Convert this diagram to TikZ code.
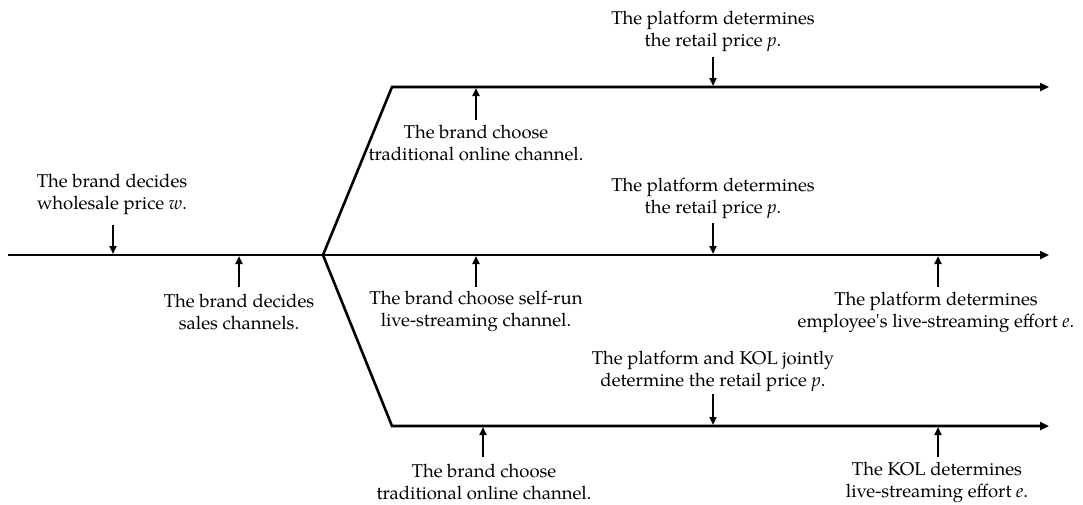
\documentclass[tikz,border=0pt]{standalone}
\usepackage{fontspec}
\setmainfont{texgyrepagella}[Extension=.otf, UprightFont=*-regular, ItalicFont=*-italic, BoldFont=*-bold]
\newfontfamily\plainpal{texgyrepagella}[Extension=.otf, UprightFont=*-regular]
\usetikzlibrary{arrows.meta}
\begin{document}
\begin{tikzpicture}[x=1pt,y=-1pt,
  lbl/.style={align=center, font=\fontsize{18.5}{22}\selectfont, inner sep=0pt},
  tarrow/.style={line width=2.6pt, -{Triangle[length=9pt,width=8pt]}},
  ev/.style={line width=2.2pt, -{Triangle[length=8pt,width=7pt]}}]
\useasboundingbox (0,0) rectangle (1083,504);
% time lines
\coordinate (s) at (8,255);
\coordinate (o) at (323,255);
\coordinate (tA) at (392,87);
\coordinate (bA) at (392,426);
\coordinate (tE) at (1049,87);
\coordinate (mE) at (1049,255);
\coordinate (bE) at (1049,426);
\draw[tarrow] (s) -- (mE);
\draw[tarrow] (o) -- (tA) -- (tE);
\draw[tarrow] (o) -- (bA) -- (bE);
% labels
\node[lbl] (n1) at (112,194) {The brand decides\\wholesale price \textit{w}.};
\node[lbl] (n2) at (239,312) {The brand decides\\sales channels.};
\node[lbl] (n3) at (476,143) {The brand choose\\traditional online channel.};
\node[lbl] (n4) at (713,31) {The platform determines\\the retail price \textit{p}.};
\node[lbl] (n5) at (713,198) {The platform determines\\the retail price \textit{p}.};
\node[lbl] (n6) at (476,311) {The brand choose self-run\\live-streaming channel.};
\node[lbl] (n7) at (936,312) {The platform determines\\employee{\plainpal'}s live-streaming effort \textit{e}.};
\node[lbl] (n8) at (713,371) {The platform and KOL jointly\\determine the retail price \textit{p}.};
\node[lbl] (n9) at (484,482) {The brand choose\\traditional online channel.};
\node[lbl] (n10) at (937,482) {The KOL determines\\live-streaming effort \textit{e}.};
% event arrows
\coordinate (a1s) at (113,225); \coordinate (a1e) at (113,254);
\coordinate (a2s) at (239,287); \coordinate (a2e) at (239,256);
\coordinate (a3s) at (476,120); \coordinate (a3e) at (476,88);
\coordinate (a4s) at (713,57);  \coordinate (a4e) at (713,86);
\coordinate (a5s) at (713,223); \coordinate (a5e) at (713,254);
\coordinate (a6s) at (476,287); \coordinate (a6e) at (476,256);
\coordinate (a7s) at (938,287); \coordinate (a7e) at (938,256);
\coordinate (a8s) at (713,394); \coordinate (a8e) at (713,425);
\coordinate (a9s) at (483,457); \coordinate (a9e) at (483,427);
\coordinate (a10s) at (938,457); \coordinate (a10e) at (938,427);
\foreach \i in {1,...,10} {\draw[ev] (a\i s) -- (a\i e);}
\end{tikzpicture}
\end{document}
